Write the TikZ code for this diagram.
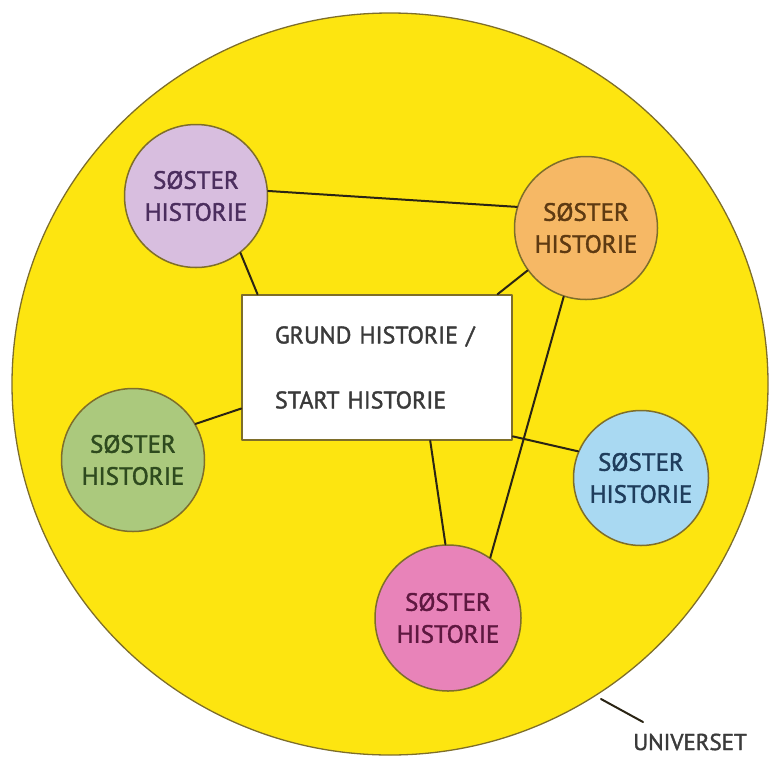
\documentclass[tikz,border=0pt]{standalone}
\usepackage{fontspec}
\setmainfont{PT Sans}[FakeBold=1.6]
\usetikzlibrary{calc}
\definecolor{uniyellow}{HTML}{FDE510}
\definecolor{rimcol}{HTML}{7E6E2A}
\definecolor{linecol}{HTML}{2A2414}
\definecolor{lilac}{HTML}{D8BEDF}
\definecolor{lilactext}{HTML}{4B2E5E}
\definecolor{apricot}{HTML}{F6B865}
\definecolor{apricottext}{HTML}{5E3A12}
\definecolor{skyblue}{HTML}{A9D9F2}
\definecolor{skybluetext}{HTML}{1F3D5C}
\definecolor{rosa}{HTML}{E883B9}
\definecolor{rosatext}{HTML}{5E1840}
\definecolor{moss}{HTML}{ABC97D}
\definecolor{mosstext}{HTML}{2E4A1E}
\definecolor{graytext}{HTML}{3A3A3A}
\tikzset{
  soster/.style={circle, draw=rimcol, line width=1.5pt, minimum size=143pt, inner sep=0pt,
    align=center, font=\fontsize{25pt}{32pt}\selectfont},
  link/.style={line width=2pt, draw=linecol},
}
\begin{document}
\begin{tikzpicture}[x=1pt, y=-1pt, line join=round, line cap=round]
	\useasboundingbox (0,0) rectangle (773,758);
	\draw[fill=uniyellow, draw=rimcol, line width=1.3pt] (390,384) ellipse (378pt and 371pt);
	\node[soster, fill=lilac, text=lilactext] (lilla) at (196,196) {SØSTER\\HISTORIE};
	\node[soster, fill=apricot, text=apricottext] (orange) at (586,228) {SØSTER\\HISTORIE};
	\node[soster, fill=skyblue, text=skybluetext, minimum size=135pt] (blaa) at (641,478) {SØSTER\\HISTORIE};
	\node[soster, fill=rosa, text=rosatext, minimum size=146pt] (rosa) at (448,618) {SØSTER\\HISTORIE};
	\node[soster, fill=moss, text=mosstext] (groen) at (133,460) {SØSTER\\HISTORIE};
	\node[draw=rimcol, line width=1.5pt, fill=white, text=graytext, minimum height=145pt,
		text width=204pt, inner xsep=33pt, inner ysep=0pt, align=left,
		font=\fontsize{24pt}{65pt}\selectfont] (grund) at (377,367.5) {GRUND~HISTORIE~/\\START~HISTORIE};
	\draw[link] (lilla.4) -- (orange.163);
	\draw[link] (lilla.-52) -- ($(grund.north west)!0.06!(grund.north east)$);
	\draw[link] (orange.216) -- ($(grund.north west)!0.944!(grund.north east)$);
	\draw[link] (orange.252) -- (rosa.55);
	\draw[link] ($(grund.south west)!0.696!(grund.south east)$) -- (rosa.92);
	\draw[link] ($(grund.north east)!0.97!(grund.south east)$) -- (blaa.157);
	\draw[link] ($(grund.north west)!0.78!(grund.south west)$) -- (groen.30);
	% pointer to the universe
	\coordinate (rim) at (601,699);
	\coordinate (tip) at (643,722);
	\draw[link] (rim) -- (tip);
	\node[text=graytext, font=\fontsize{23pt}{28pt}\selectfont, inner sep=0pt] (univ) at (690,742) {UNIVERSET};
\end{tikzpicture}
\end{document}
